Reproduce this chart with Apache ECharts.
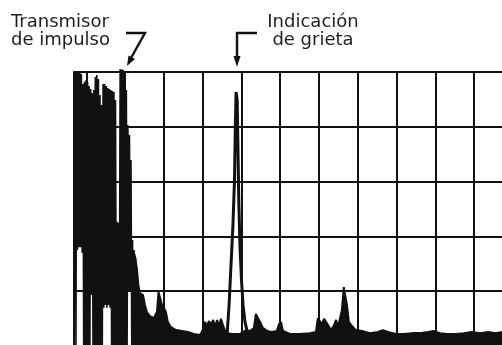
<!DOCTYPE html>
<html>
<head>
<meta charset="utf-8">
<script src="https://cdn.jsdelivr.net/npm/echarts@6/dist/echarts.min.js"></script>
<style>
  html, body { margin: 0; padding: 0; background: #fff; }
  #chart { width: 502px; height: 345px; }
</style>
</head>
<body>
<div id="chart"></div>
<script>
// time axis in tenths of a screen division, amplitude in % of screen height
const divisionesX = [0, 10, 20, 30, 40, 50, 60, 70, 80, 90, 100]

// transmitter pulse: alternating crest / trough of the RF trace
const pulsoT = [-2.9, -2.7, -2.5, -2.3, -2.1, -1.9, -1.7, -1.5, -1.3, -1.1, -0.9, -0.7, -0.5, -0.3, -0.1,
  0.1, 0.3, 0.5, 0.7, 0.9, 1.1, 1.3, 1.5, 1.7, 1.9, 2.1, 2.3, 2.5, 2.7, 2.9, 3.1, 3.3, 3.5, 3.7, 3.9,
  4.1, 4.3, 4.5, 4.7, 4.9, 5.1, 5.3, 5.5, 5.7, 5.9, 6.1, 6.3, 6.5, 6.7, 6.9, 7.1, 7.3, 7.5, 7.7, 7.9,
  8.1, 8.3, 8.5, 8.7, 8.9, 9.1, 9.3, 9.5, 9.7, 9.9, 10.1, 10.3, 10.5, 10.7, 10.9, 11.1, 11.3, 11.5,
  11.7, 11.9, 12.1, 12.3, 12.5, 12.7]
const pulsoA = [100, 0, 100, 35, 100, 36, 99.6, 36, 99.3, 34, 95.6, 0, 96.4, 0, 97.1,
  0, 96.4, 0, 94.9, 0, 93.8, 18.6, 92.3, 0, 93.4, 0, 98.2, 0, 98.9, 0, 97.4, 0, 91.6, 0, 88.0,
  0, 95.6, 14, 95.6, 15, 94.9, 14, 94.2, 15, 93.8, 14, 93.4, 0, 93.1, 0, 92.7, 0, 89.8, 0, 45.3,
  0, 45, 0, 101, 0, 101, 0, 100.7, 0, 100, 0, 93.4, 0, 80.7, 20, 77.0, 20, 67.9,
  0, 38.7, 0, 35.0, 0, 32.1]

// decay tail and baseline noise
const ruidoT = [12.0, 12.5, 13.0, 13.4, 13.8, 14.6, 15.1, 15.6, 16.4, 17.4, 18.2, 18.6, 19.1, 19.5, 20.0,
  20.5, 21.0, 21.8, 23.1, 24.7, 26.2, 27.7, 29.3, 30.0, 30.6, 31.1, 31.6, 32.1, 32.7, 33.2,
  33.7, 34.2, 34.7, 35.2, 35.7, 36.5, 37.5, 39.6, 41.2, 42.2, 43.2, 43.7, 44.2, 44.8, 45.5,
  46.6, 47.9, 49.1, 49.7, 50.2, 50.7, 52.5, 55.1, 57.6, 59.2, 59.7, 60.2, 60.7, 61.3, 61.8,
  62.3, 63.1, 63.9, 64.4, 64.9, 65.4, 65.9, 66.4, 66.8, 67.2, 67.7, 68.5, 69.5, 71.1, 73.1,
  75.2, 76.5, 77.8, 79.8, 81.9, 84.0, 86.0, 88.1, 89.6, 91.2, 93.2, 95.3, 97.4, 99.4, 101.5,
  103.6, 105.6, 107.2]
const ruidoA = [35.0, 32.8, 28.5, 22.3, 19.3, 18.6, 15.0, 12.4, 10.9, 10.2, 12.4, 19.7, 20.1, 15.0, 13.9,
  12.4, 8.8, 6.9, 5.8, 5.5, 5.1, 4.4, 4.0, 5.8, 8.8, 7.3, 9.1, 7.7, 9.5, 6.9,
  9.5, 7.3, 9.9, 7.7, 5.8, 4.7, 4.4, 4.4, 5.8, 5.5, 6.6, 11.7, 12.4, 8.8, 6.6,
  5.5, 5.1, 5.5, 8.0, 8.8, 5.5, 4.4, 4.4, 4.7, 5.1, 10.2, 10.9, 8.0, 9.9, 10.6,
  7.7, 5.8, 7.7, 9.5, 6.9, 6.6, 13.1, 21.5, 21.9, 15.0, 8.8, 7.3, 5.8, 5.5, 4.7,
  5.1, 5.8, 5.1, 4.4, 4.4, 4.7, 4.7, 5.1, 5.5, 4.7, 4.4, 4.4, 4.7, 5.1, 4.7,
  5.1, 4.7, 5.1]

// crack echo
const grietaT = [36.3, 36.8, 37.3, 37.8, 38.2, 38.4, 38.6, 38.9, 39.1, 39.3, 39.6, 40.0, 40.4, 40.9, 41.4]
const grietaA = [4.4, 15.0, 29.6, 44.2, 60.6, 78.8, 92.7, 89.8, 71.5, 53.3, 36.9, 24.1, 15.0, 8.8, 5.8]

const pares = (t, a) => t.map((v, i) => [v, a[i]])

const tinta = '#111111'
const fuente = '18px "DejaVu Sans"'

const chart = echarts.init(document.getElementById('chart'))

chart.setOption({
  animation: false,
  backgroundColor: '#ffffff',
  grid: { left: 74, top: 72, right: 0, height: 274, outerBoundsMode: 'none' },
  xAxis: {
    type: 'value',
    min: -3.2,
    max: 107.2,
    axisLine: { show: false },
    axisTick: { show: false },
    axisLabel: { show: false },
    splitLine: { show: false }
  },
  yAxis: {
    type: 'value',
    min: 0,
    max: 100,
    interval: 20,
    axisLine: { show: true, onZero: false, lineStyle: { color: tinta, width: 2 } },
    axisTick: { show: false },
    axisLabel: { show: false },
    splitLine: { show: true, lineStyle: { color: tinta, width: 2 } }
  },
  graphic: [
    {
      type: 'text', x: 11, y: 13,
      style: { text: 'Transmisor\nde impulso', font: fuente, lineHeight: 18, fill: '#1e1e1e', verticalAlign: 'top' }
    },
    {
      type: 'text', x: 313, y: 13,
      style: { text: 'Indicación\nde grieta', font: fuente, lineHeight: 18, fill: '#1e1e1e', align: 'center', verticalAlign: 'top' }
    },
    {
      type: 'polyline',
      shape: { points: [[126, 33], [145, 33], [131, 58]] },
      style: { stroke: tinta, lineWidth: 2.4, fill: null }
    },
    {
      type: 'polygon',
      shape: { points: [[127, 66], [135, 59], [128.5, 55.5]] },
      style: { fill: tinta }
    },
    {
      type: 'polyline',
      shape: { points: [[257, 33], [237, 33], [237, 58]] },
      style: { stroke: tinta, lineWidth: 2.4, fill: null }
    },
    {
      type: 'polygon',
      shape: { points: [[237, 67], [233.5, 56], [240.5, 56]] },
      style: { fill: tinta }
    }
  ],
  series: [
    {
      name: 'ruido',
      type: 'line',
      data: pares(ruidoT, ruidoA),
      showSymbol: false,
      emphasis: { disabled: true },
      lineStyle: { color: tinta, width: 2 },
      areaStyle: { color: tinta, opacity: 1 },
      markLine: {
        silent: true,
        symbol: ['none', 'none'],
        label: { show: false },
        lineStyle: { color: tinta, width: 2, type: 'solid' },
        data: divisionesX.map(v => ({ xAxis: v }))
      },
      z: 2
    },
    {
      name: 'pulso',
      type: 'line',
      data: pares(pulsoT, pulsoA),
      showSymbol: false,
      clip: false,
      emphasis: { disabled: true },
      lineStyle: { color: tinta, width: 1.6 },
      z: 3
    },
    {
      name: 'grieta',
      type: 'line',
      data: pares(grietaT, grietaA),
      showSymbol: false,
      emphasis: { disabled: true },
      lineStyle: { color: tinta, width: 3 },
      z: 3
    }
  ]
})
</script>
</body>
</html>
